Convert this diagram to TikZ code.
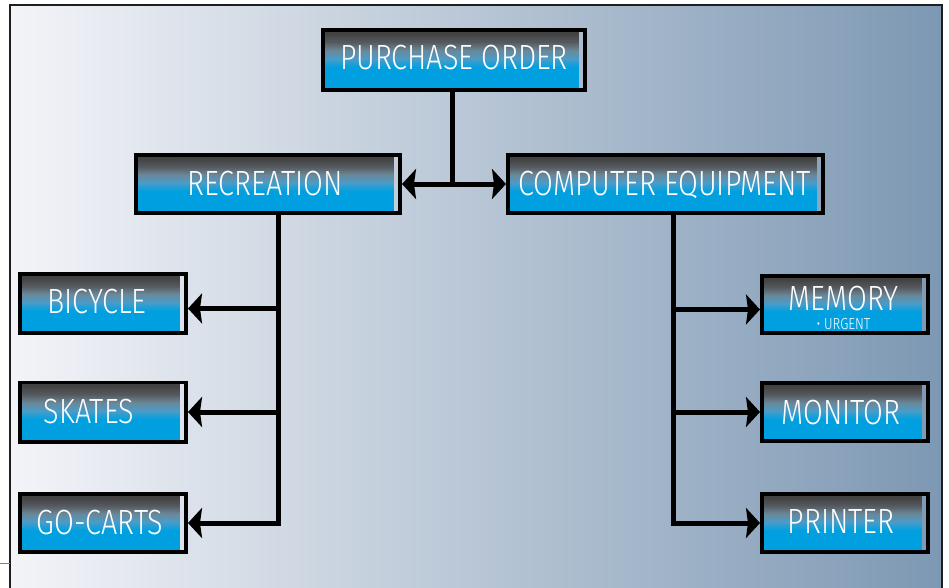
\documentclass[tikz,border=0pt]{standalone}
\usepackage{fontspec}
\setmainfont{Fira Sans}
\newfontfamily\boxfont{Fira Sans Light}[FakeStretch=0.82]
\usetikzlibrary{arrows.meta,calc}
\definecolor{bgL}{HTML}{F3F4F8}
\definecolor{bgM}{HTML}{B8C5D4}
\definecolor{bgR}{HTML}{7D98B3}
\definecolor{framec}{HTML}{1E1E1E}
\definecolor{cblue}{HTML}{00A0E0}
\definecolor{cmid}{HTML}{4A9CC9}
\definecolor{cgb}{HTML}{6A8899}
\definecolor{cgray}{HTML}{55595E}
\definecolor{cdark}{HTML}{424242}
\pgfdeclareverticalshading{boxshade}{100bp}{color(0bp)=(cblue); color(25bp)=(cblue); color(44bp)=(cblue); color(51bp)=(cmid); color(58bp)=(cgb); color(65bp)=(cgray); color(72bp)=(cdark); color(75bp)=(cdark); color(100bp)=(cdark)}
\tikzset{
  cbox/.style={draw=black, line width=3.8pt, inner sep=0pt,
    path picture={\shade[shading=boxshade] (path picture bounding box.south west) rectangle ([xshift=-6.5pt]path picture bounding box.north east);}},
  lbl/.style={text=white, inner sep=0pt, anchor=base, font=\boxfont\fontsize{35}{35}\selectfont},
  small/.style={text=white, inner sep=0pt, anchor=base, font=\boxfont\fontsize{16}{16}\selectfont},
  conn/.style={line width=5pt, black},
  tip/.tip={Stealth[length=14pt, width=30pt, inset=2pt]}
}
\begin{document}
\begin{tikzpicture}[x=1pt,y=-1pt]
\useasboundingbox (0,0) rectangle (949,588);
\fill[white] (0,0) rectangle (949,588);
\shade[left color=bgL, middle color=bgM, right color=bgR] (10,5) rectangle (942,588);
\draw[line width=2.5pt, framec] (10,590) -- (10,5) -- (942,5) -- (942,590);
\draw[line width=1pt, gray] (0,563) -- (10,563);

% boxes
\node[cbox, minimum width=262.2pt, minimum height=60.2pt] (po) at (454,60) {};
\node[cbox, minimum width=264.2pt, minimum height=58.2pt] (rec) at (268,184) {};
\node[cbox, minimum width=315.2pt, minimum height=58.2pt] (ce) at (665.5,184) {};
\node[cbox, minimum width=166.2pt, minimum height=59.2pt] (bic) at (103,303.5) {};
\node[cbox, minimum width=166.2pt, minimum height=59.2pt] (ska) at (103,412) {};
\node[cbox, minimum width=166.2pt, minimum height=58.2pt] (go) at (103,523) {};
\node[cbox, minimum width=166.2pt, minimum height=57.2pt] (mem) at (845,304.5) {};
\node[cbox, minimum width=166.2pt, minimum height=58.2pt] (mon) at (845,412) {};
\node[cbox, minimum width=166.2pt, minimum height=58.2pt] (pri) at (845,523) {};

% labels
\node[lbl] (pot) at (454,70) {PURCHASE ORDER};
\node[lbl] (rect) at (265,195) {RECREATION};
\node[lbl] (cet) at (664.5,195) {COMPUTER EQUIPMENT};
\node[lbl] (bict) at (97,313) {BICYCLE};
\node[lbl] (skat) at (89,423.5) {SKATES};
\node[lbl] (got) at (100,534) {GO-CARTS};
\node[lbl] (memt) at (843.5,310) {MEMORY};
\node[small] (urg) at (843.5,329.5) {• URGENT};
\node[lbl] (mont) at (841,424) {MONITOR};
\node[lbl] (prit) at (841,533) {PRINTER};

% connectors
\coordinate (jn) at (452,184);
\coordinate (lt) at (278,523);
\coordinate (rt) at (673,523);
\draw[conn] (po.south -| jn) -- (jn);
\draw[conn, tip-tip] (rec.east) -- (ce.west);
\draw[conn, -tip] (rec.south -| lt) -- (lt) -- (go.east);
\draw[conn, -tip] ($(lt |- bic.east)+(0,5)$) -- ($(bic.east)+(0,5)$);
\draw[conn, -tip] (lt |- ska.east) -- (ska.east);
\draw[conn, -tip] (ce.south -| rt) -- (rt) -- (pri.west);
\draw[conn, -tip] ($(rt |- mem.west)+(0,5)$) -- ($(mem.west)+(0,5)$);
\draw[conn, -tip] (rt |- mon.west) -- (mon.west);
\end{tikzpicture}
\end{document}
